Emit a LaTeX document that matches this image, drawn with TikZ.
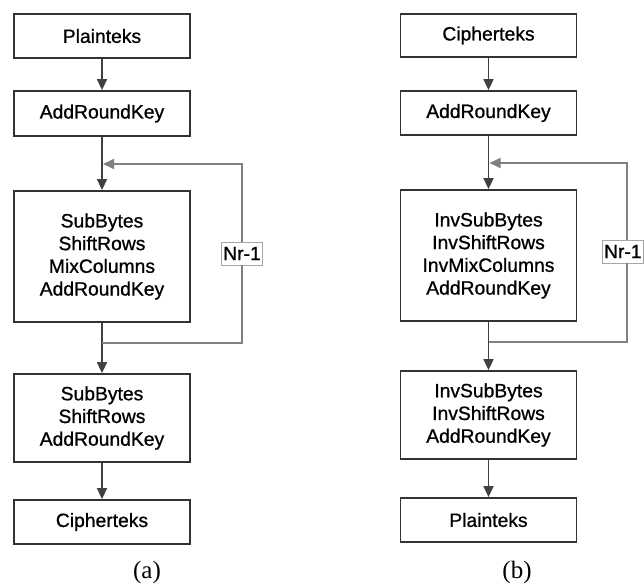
\documentclass[tikz,border=0pt]{standalone}
\usepackage{fontspec}
\setmainfont{Liberation Sans}[FakeBold=0.9]
\newfontfamily\capfont{Liberation Serif}
\usetikzlibrary{arrows.meta,positioning}

\begin{document}
\begin{tikzpicture}[
    x=1pt, y=-1pt,
    block/.style={rectangle, draw=black!80, line width=1.8pt, minimum width=176pt, inner sep=0pt, align=center, font=\fontsize{19.3}{22.7}\selectfont},
    arrow/.style={-{Triangle[length=11pt,width=10pt]}, draw=black!75, line width=1.5pt},
    loopline/.style={draw=black!50, line width=1.8pt},
    count/.style={rectangle, draw=black!35, line width=0.8pt, fill=white, inner sep=1.5pt, minimum height=23pt, font=\fontsize{19.3}{22.7}\selectfont},
    caption/.style={font=\capfont\fontsize{25}{28}\selectfont}
]
\useasboundingbox (0,0) rectangle (644,585);

% (a) enkripsi
\node[block, minimum height=44pt] (plainA) at (102,36) {Plainteks};
\node[block, minimum height=45pt] (addA) at (102,113.5) {AddRoundKey};
\node[block, minimum height=131pt] (midA) at (102,256.5) {SubBytes\\ShiftRows\\MixColumns\\AddRoundKey};
\node[block, minimum height=88pt] (lastA) at (102,418) {SubBytes\\ShiftRows\\AddRoundKey};
\node[block, minimum height=44pt] (cipherA) at (102,522) {Cipherteks};
\node[count] (nrA) at (242,253.5) {Nr-1};
\coordinate (inA) at (102,164);
\coordinate (outA) at (102,343);

\draw[arrow] (plainA) -- (addA);
\draw[arrow] (addA) -- (midA);
\draw[arrow] (midA) -- (lastA);
\draw[arrow] (lastA) -- (cipherA);
\draw[loopline] (outA) -| (nrA.south);
\draw[loopline, -{Triangle[length=11pt,width=10pt]}, shorten >=1pt] (nrA.north) |- (inA);

% (b) dekripsi
\node[block, minimum height=43pt] (cipherB) at (488.5,35.5) {Cipherteks};
\node[block, minimum height=44pt] (addB) at (488.5,113) {AddRoundKey};
\node[block, minimum height=131pt] (midB) at (488.5,255.5) {InvSubBytes\\InvShiftRows\\InvMixColumns\\AddRoundKey};
\node[block, minimum height=88pt] (lastB) at (488.5,415) {InvSubBytes\\InvShiftRows\\AddRoundKey};
\node[block, minimum height=44pt] (plainB) at (488.5,520) {Plainteks};
\node[count, anchor=east] (nrB) at (643.5,251.5) {Nr-1};
\coordinate (inB) at (488.5,163);
\coordinate (outB) at (488.5,342);

\draw[arrow] (cipherB) -- (addB);
\draw[arrow] (addB) -- (midB);
\draw[arrow] (midB) -- (lastB);
\draw[arrow] (lastB) -- (plainB);
\draw[loopline] (outB) -| (627,0 |- nrB.south);
\draw[loopline, -{Triangle[length=11pt,width=10pt]}, shorten >=1pt] (627,0 |- nrB.north) |- (inB);

\node[caption] (capA) at (147,572) {(a)};
\node[caption] (capB) at (517,572) {(b)};
\end{tikzpicture}
\end{document}
